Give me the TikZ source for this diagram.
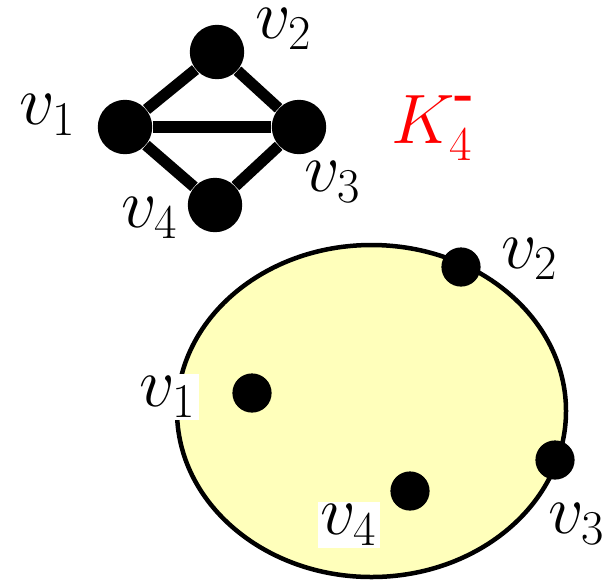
\documentclass[tikz,border=0pt]{standalone}
\usepackage{amsmath}
\usepackage{xcolor}
\usepackage{tikz}
\usetikzlibrary{positioning}
\definecolor{setyellow}{RGB}{255, 255, 187}

\begin{document}
\begin{tikzpicture}[
    x=0.0125cm, y=-0.0125cm,
    every node/.style={font=\fontsize{27}{32}\selectfont},
    bigvertex/.style={circle, fill=black, inner sep=0pt, minimum size=0.68cm},
    smallvertex/.style={circle, fill=black, inner sep=0pt, minimum size=0.49cm},
    edge/.style={line width=4pt},
    vlabel/.style={inner sep=1pt},
    boxlabel/.style={inner sep=1pt, fill=white}
]
\useasboundingbox (0,0) rectangle (615,581);
% the graph K4 minus an edge
\node[bigvertex] (a1) at (125,127) {};
\node[bigvertex] (a2) at (217,52) {};
\node[bigvertex] (a3) at (299,127) {};
\node[bigvertex] (a4) at (215,205) {};
\draw[edge] (a1) -- (a2) -- (a3) -- (a4) -- (a1);
\draw[edge] (a1) -- (a3);
\node[vlabel] (la1) at (48,115) {$v_1$};
\node[vlabel] (la2) at (284,29) {$v_2$};
\node[vlabel] (la3) at (333,182) {$v_3$};
\node[vlabel] (la4) at (150,218) {$v_4$};
\node[inner sep=0pt, anchor=base west, text=red] (name) at (391,143)
  {$K_4^{\text{\raisebox{2.5pt}{\textbf{-}}}}$};
% the set with its four vertices
\draw[line width=1.6pt, fill=setyellow] (371.5,411) ellipse [x radius=194.5, y radius=166];
\node[smallvertex] (b1) at (252,393) {};
\node[smallvertex] (b2) at (461,267) {};
\node[smallvertex] (b3) at (555,460) {};
\node[smallvertex] (b4) at (410,491) {};
\node[boxlabel] (lb1) at (168,397) {$v_1$};
\node[vlabel] (lb2) at (530,259) {$v_2$};
\node[vlabel] (lb3) at (577,524) {$v_3$};
\node[boxlabel] (lb4) at (349,525) {$v_4$};
\end{tikzpicture}
\end{document}
